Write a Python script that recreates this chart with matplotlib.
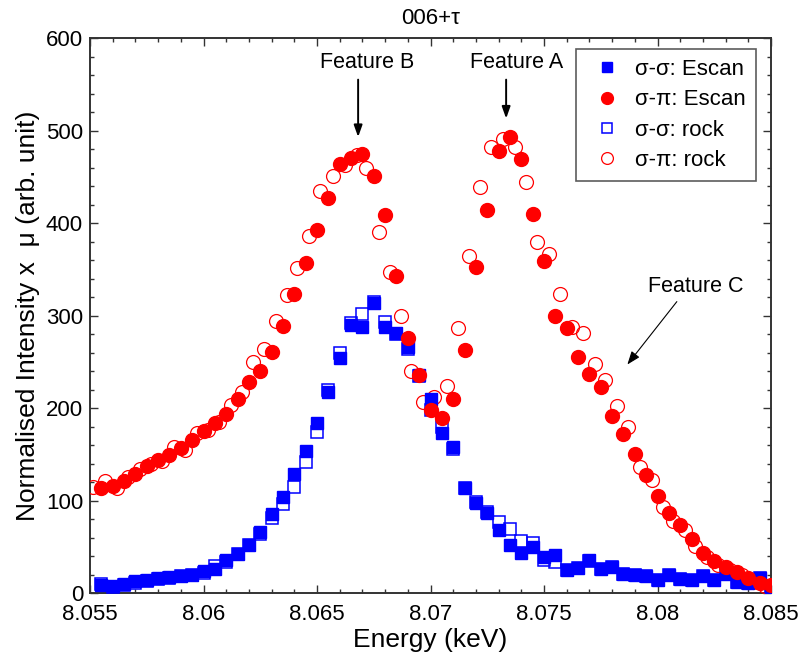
import matplotlib
matplotlib.use("Agg")
import matplotlib.pyplot as plt
from matplotlib.ticker import MultipleLocator

plt.rcParams['font.family'] = ['Liberation Sans', 'DejaVu Sans']

# energy scans (keV) - both polarisation channels share the same points
e_scan = [8.0555, 8.0560, 8.0565, 8.0570, 8.0575, 8.0580, 8.0585, 8.0590, 8.0595, 8.0600,
          8.0605, 8.0610, 8.0615, 8.0620, 8.0625, 8.0630, 8.0635, 8.0640, 8.0645, 8.0650,
          8.0655, 8.0660, 8.0665, 8.0670, 8.0675, 8.0680, 8.0685, 8.0690, 8.0695, 8.0700,
          8.0705, 8.0710, 8.0715, 8.0720, 8.0725, 8.0730, 8.0735, 8.0740, 8.0745, 8.0750,
          8.0755, 8.0760, 8.0765, 8.0770, 8.0775, 8.0780, 8.0785, 8.0790, 8.0795, 8.0800,
          8.0805, 8.0810, 8.0815, 8.0820, 8.0825, 8.0830, 8.0835, 8.0840, 8.0845, 8.0850]
ss_escan = [9, 8, 10, 13, 14, 16, 17, 18, 20, 24,
            26, 36, 42, 52, 66, 85, 104, 129, 154, 184,
            217, 254, 290, 288, 313, 288, 281, 266, 236, 210,
            173, 158, 114, 97, 86, 68, 52, 43, 50, 39,
            41, 25, 27, 36, 26, 28, 21, 20, 18, 14,
            19, 15, 14, 18, 14, 21, 12, 11, 16, 5]
sp_escan = [114, 116, 121, 129, 137, 144, 149, 157, 165, 175,
            184, 193, 210, 228, 240, 261, 289, 323, 357, 392,
            427, 464, 470, 475, 451, 409, 343, 276, 236, 198,
            189, 210, 263, 352, 414, 478, 493, 469, 410, 359,
            300, 287, 255, 237, 223, 191, 172, 150, 128, 105,
            86, 73, 58, 43, 35, 28, 23, 16, 11, 9]

# rocking-curve integrated intensities
e_rock_ss = e_scan
ss_rock = [10, 7, 9, 11, 13, 15, 16, 18, 19, 22,
           29, 34, 42, 52, 64, 81, 96, 115, 142, 174,
           220, 259, 292, 302, 315, 293, 280, 264, 235, 198,
           180, 156, 114, 98, 88, 77, 69, 56, 54, 36,
           33, 25, 27, 35, 26, 28, 21, 20, 18, 14,
           19, 15, 14, 18, 14, 21, 12, 11, 16, 5]
e_rock_sp = [8.05512, 8.05566, 8.05617, 8.05669, 8.05720, 8.05770, 8.05817, 8.05870, 8.05918, 8.05970,
             8.06021, 8.06070, 8.06120, 8.06168, 8.06217, 8.06267, 8.06319, 8.06366, 8.06413, 8.06466,
             8.06513, 8.06569, 8.06623, 8.06675, 8.06716, 8.06773, 8.06822, 8.06869, 8.06914, 8.06968,
             8.07017, 8.07071, 8.07120, 8.07171, 8.07218, 8.07267, 8.07318, 8.07372, 8.07421, 8.07468,
             8.07523, 8.07570, 8.07622, 8.07670, 8.07725, 8.07769, 8.07823, 8.07872, 8.07923, 8.07975,
             8.08023, 8.08070, 8.08121, 8.08165, 8.08217, 8.08267, 8.08319, 8.08371, 8.08422, 8.08473]
sp_rock = [115, 121, 113, 125, 134, 140, 143, 158, 155, 173,
           176, 185, 203, 217, 250, 264, 294, 322, 351, 386,
           435, 451, 463, 473, 460, 390, 347, 299, 240, 207,
           212, 224, 286, 364, 439, 482, 491, 482, 444, 379,
           366, 323, 288, 281, 248, 230, 202, 180, 136, 122,
           93, 78, 68, 51, 39, 30, 25, 19, 12, 8]

x_ticks = [8.055, 8.06, 8.065, 8.07, 8.075, 8.08, 8.085]
x_ticklabels = ['8.055', '8.06', '8.065', '8.07', '8.075', '8.08', '8.085']

fig = plt.figure(figsize=(8.01, 6.60), dpi=100)
ax = fig.add_axes([0.1124, 0.1015, 0.8502, 0.8409])

blue = '#0000ff'
red = '#ff0000'

ax.plot(e_rock_ss, ss_rock, ls='none', marker='s', ms=8.3, mfc='none', mec=blue, mew=1.1,
        label='σ-σ: rock', zorder=3)
ax.plot(e_rock_sp, sp_rock, ls='none', marker='o', ms=10, mfc='none', mec=red, mew=0.9,
        label='σ-π: rock', zorder=3)
ax.plot(e_scan, ss_escan, ls='none', marker='s', ms=8.3, mfc=blue, mec=blue,
        label='σ-σ: Escan', zorder=4)
ax.plot(e_scan, sp_escan, ls='none', marker='o', ms=10, mfc=red, mec=red,
        label='σ-π: Escan', zorder=4)

ax.set_xlim(8.055, 8.085)
ax.set_ylim(0, 600)
ax.set_xticks(x_ticks)
ax.set_xticklabels(x_ticklabels)
ax.xaxis.set_minor_locator(MultipleLocator(0.001))
ax.yaxis.set_major_locator(MultipleLocator(100))
ax.yaxis.set_minor_locator(MultipleLocator(20))
ax.tick_params(which='both', direction='in', top=True, right=True, labelsize=16,
               color='#333333', width=1.0)
ax.tick_params(which='major', length=6)
ax.tick_params(axis='x', which='major', pad=8)
ax.tick_params(axis='y', which='major', pad=5)
ax.tick_params(which='minor', length=3)
for sp in ax.spines.values():
    sp.set_color('#333333')
    sp.set_linewidth(1.4)

ax.set_xlabel('Energy (keV)', fontsize=19, labelpad=2)
ax.set_ylabel('Normalised Intensity x  μ (arb. unit)', fontsize=19, labelpad=4)
ax.set_title('006+τ', fontsize=16, pad=10)

# feature markers
ax.text(8.0672, 574, 'Feature B', fontsize=15.5, ha='center', va='center')
ax.annotate('', xy=(8.06681, 493), xytext=(8.06681, 555),
            arrowprops=dict(arrowstyle='-|>,head_length=0.7,head_width=0.25',
                            lw=1.4, color='k', shrinkA=0, shrinkB=0))
ax.text(8.07381, 574, 'Feature A', fontsize=15.5, ha='center', va='center')
ax.annotate('', xy=(8.07333, 513), xytext=(8.07333, 555),
            arrowprops=dict(arrowstyle='-|>,head_length=0.7,head_width=0.25',
                            lw=1.4, color='k', shrinkA=0, shrinkB=0))
ax.text(8.0817, 331, 'Feature C', fontsize=15.5, ha='center', va='center')
ax.annotate('', xy=(8.07867, 247), xytext=(8.08085, 315),
            arrowprops=dict(arrowstyle='-|>,head_length=0.8,head_width=0.3',
                            lw=0.8, color='k', shrinkA=0, shrinkB=0))

handles, labels = ax.get_legend_handles_labels()
order = [2, 3, 0, 1]
leg = ax.legend([handles[i] for i in order], [labels[i] for i in order],
                loc='upper left', bbox_to_anchor=(0.7137, 0.980), borderaxespad=0,
                fontsize=16, frameon=True, fancybox=False, handlelength=1.9,
                handletextpad=0.3, labelspacing=0.42, borderpad=0.45, markerscale=0.85)
leg.get_frame().set_edgecolor('#333333')
leg.get_frame().set_linewidth(1.2)

fig.savefig('out.png', dpi=100)
